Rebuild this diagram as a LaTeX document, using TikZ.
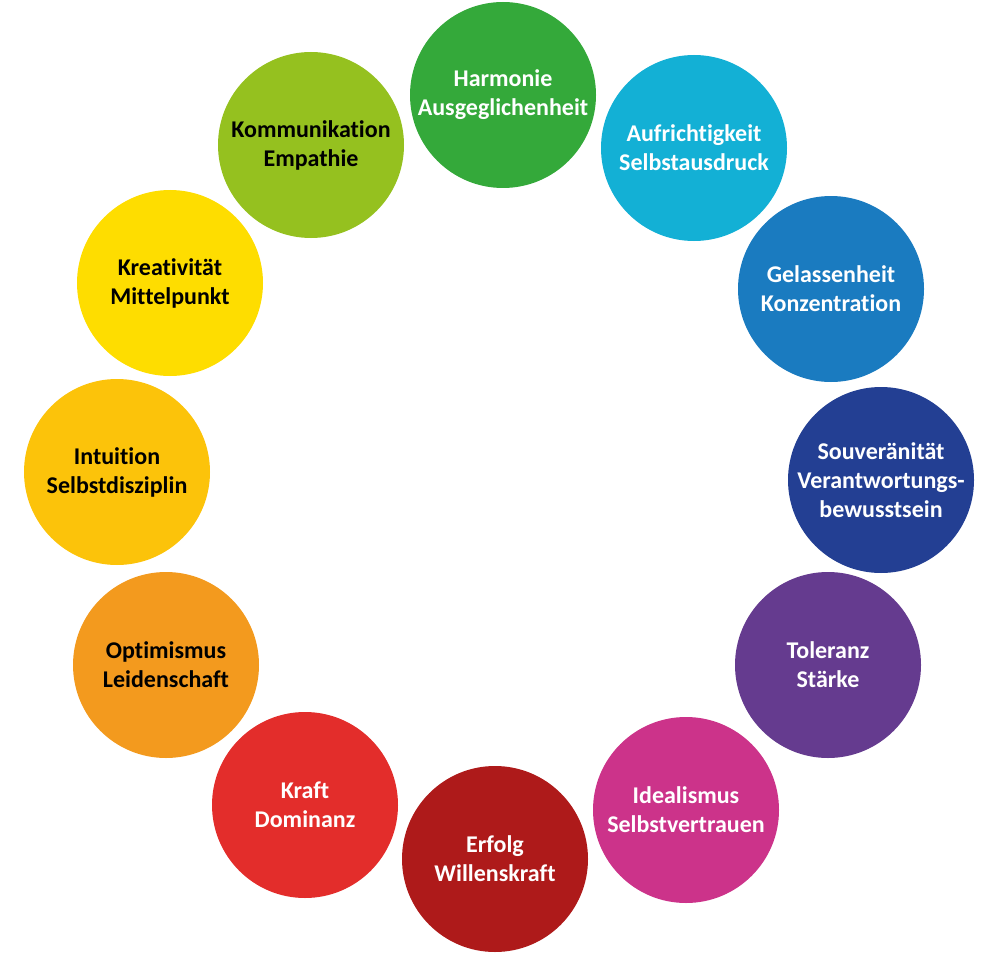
\documentclass[tikz,border=0pt]{standalone}
\usepackage{fontspec}
\setmainfont{Carlito}[Ligatures={NoCommon,NoRequired,NoContextual}]
\definecolor{cHarm}{RGB}{52,169,58}
\definecolor{cAufr}{RGB}{19,176,213}
\definecolor{cGel}{RGB}{26,123,192}
\definecolor{cSouv}{RGB}{35,63,147}
\definecolor{cTol}{RGB}{101,59,143}
\definecolor{cIdeal}{RGB}{204,51,138}
\definecolor{cErf}{RGB}{174,26,26}
\definecolor{cKraft}{RGB}{227,45,43}
\definecolor{cOpt}{RGB}{243,154,30}
\definecolor{cInt}{RGB}{252,195,10}
\definecolor{cKrea}{RGB}{254,221,0}
\definecolor{cKomm}{RGB}{149,193,31}
\tikzset{
  ball/.style={circle, minimum size=186pt, inner sep=0pt, draw=none, fill=#1,
    align=center, font=\fontsize{24pt}{29pt}\selectfont\bfseries},
  wtext/.style={text=white},
  btext/.style={text=black}
}
\begin{document}
\begin{tikzpicture}[x=1pt,y=-1pt]
\useasboundingbox (0,0) rectangle (987,960);
\node[ball=cHarm, wtext]  (harm)  at (503,95)  {Harmonie\\Ausgeglichenheit};
\node[ball=cAufr, wtext]  (aufr)  at (694,148) {Aufrichtigkeit\\Selbstausdruck};
\node[ball=cGel, wtext]   (gel)   at (831,289) {Gelassenheit\\Konzentration};
\node[ball=cSouv, wtext]  (souv)  at (881,480) {Souveränität\\Verantwortungs-\\bewusstsein};
\node[ball=cTol, wtext]   (tol)   at (828,665) {Toleranz\\Stärke};
\node[ball=cIdeal, wtext] (ideal) at (686,810) {Idealismus\\Selbstvertrauen};
\node[ball=cErf, wtext]   (erf)   at (495,859) {Erfolg\\Willenskraft};
\node[ball=cKraft, wtext] (kraft) at (305,805) {Kraft\\Dominanz};
\node[ball=cOpt, btext]   (opt)   at (166,665) {Optimismus\\Leidenschaft};
\node[ball=cInt, btext]   (int)   at (117,472) {Intuition\\Selbstdisziplin};
\node[ball=cKrea, btext]  (krea)  at (170,283) {Kreativität\\Mittelpunkt};
\node[ball=cKomm, btext]  (komm)  at (311,145) {Kommunikation\\Empathie};
\end{tikzpicture}
\end{document}
